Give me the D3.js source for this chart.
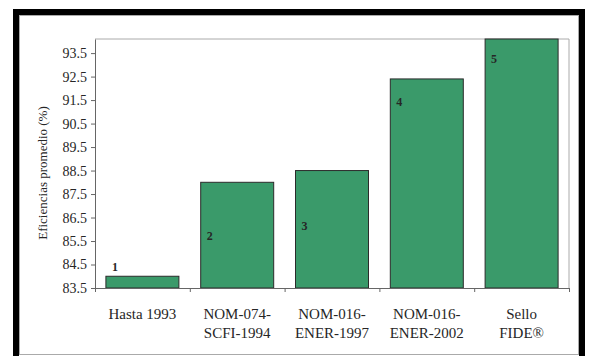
<!DOCTYPE html>
<html><head><meta charset="utf-8">
<script src="https://cdn.jsdelivr.net/npm/d3@7"></script>
<style>body{margin:0;background:#fff}svg{display:block}text{font-family:"Liberation Serif","Times New Roman",serif !important;fill:#262626}</style>
</head><body><svg id="c" width="589" height="356"></svg>
<script>
const categories = [["Hasta 1993"], ["NOM-074-", "SCFI-1994"], ["NOM-016-", "ENER-1997"], ["NOM-016-", "ENER-2002"], ["Sello", "FIDE®"]];
const values = [84.0, 88.0, 88.5, 92.4, 94.1];
const barLabels = ["1", "2", "3", "4", "5"];
const labelAt = [84.4, 85.7, 86.15, 91.4, 93.25];
const yTicks = [83.5, 84.5, 85.5, 86.5, 87.5, 88.5, 89.5, 90.5, 91.5, 92.5, 93.5];
const yTitle = "Eficiencias promedio (%)";

const svg = d3.select("#c");
// frame
svg.append("rect").attr("x",16).attr("y",12).attr("width",566).attr("height",360).attr("fill","none").attr("stroke","#000").attr("stroke-width",6);
svg.append("rect").attr("x",19.5).attr("y",15.5).attr("width",559).attr("height",339).attr("fill","none").attr("stroke","#aaa").attr("stroke-width",1);

const L=95, R=569, T=39, B=288;
const x = d3.scaleBand().domain(d3.range(categories.length)).range([L,R]).paddingInner(0.23).paddingOuter(0.115);
const y = d3.scaleLinear().domain([83.5, 94.1]).range([B,T]);

// plot border top/right
svg.append("path").attr("d",`M${L},${T}H${R}V${B}`).attr("fill","none").attr("stroke","#aaa").attr("stroke-width",1);

svg.append("g").selectAll("rect").data(values).join("rect")
  .attr("x",(d,i)=>x(i)).attr("width",x.bandwidth())
  .attr("y",d=>y(d)).attr("height",d=>B-y(d))
  .attr("fill","#3a9a6a").attr("stroke","#2b2b2b").attr("stroke-width",1);

svg.append("g").selectAll("text").data(barLabels).join("text")
  .attr("x",(d,i)=>x(i)+6).attr("y",(d,i)=>y(labelAt[i])+4)
  .attr("font-size",12).attr("font-weight","bold").text(d=>d);

// y axis
const ya = svg.append("g").attr("transform",`translate(${L},0)`)
  .call(d3.axisLeft(y).tickValues(yTicks).tickFormat(d3.format(".1f")).tickSize(4).tickSizeOuter(0).tickPadding(4));
ya.attr("font-family",null);
ya.select(".domain").attr("stroke","#666");
ya.selectAll("line").attr("stroke","#666");
ya.selectAll("text").attr("font-size",14).attr("fill","#262626");

// x axis
const xs = d3.scaleLinear().domain([0,categories.length]).range([L,R]);
const xa = svg.append("g").attr("transform",`translate(0,${B})`)
  .call(d3.axisBottom(xs).tickValues(d3.range(categories.length+1)).tickSize(4).tickFormat(""));
xa.select(".domain").attr("stroke","#666");
xa.selectAll("line").attr("stroke","#666");

const cl = svg.append("g").selectAll("text").data(categories).join("text")
  .attr("text-anchor","middle").attr("font-size",15)
  .attr("x",(d,i)=>x(i)+x.bandwidth()/2).attr("y",319);
cl.selectAll("tspan").data(d=>d).join("tspan")
  .attr("x",function(){return this.parentNode.getAttribute("x");})
  .attr("dy",(d,j)=>j===0?0:19).text(d=>d);

svg.append("text").attr("transform","translate(47,173) rotate(-90)").attr("text-anchor","middle")
  .attr("font-size",13).text(yTitle);
</script></body></html>
